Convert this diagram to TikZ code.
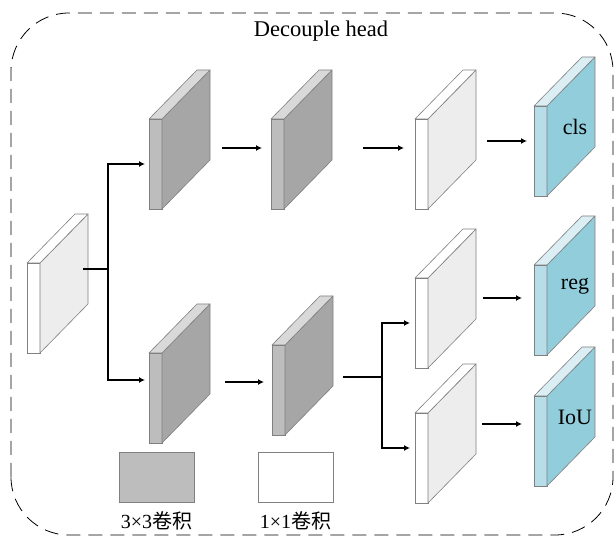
\documentclass[tikz,border=0pt]{standalone}
\usepackage{fontspec}
\setmainfont{Liberation Serif}
\newfontfamily\cjk{Noto Sans CJK SC}
\usetikzlibrary{arrows.meta,calc}

\definecolor{edgegray}{HTML}{808080}
\definecolor{gfront}{HTML}{BDBDBD}
\definecolor{gside}{HTML}{A6A6A6}
\definecolor{gtop}{HTML}{D9D9D9}
\definecolor{wside}{HTML}{EDEDED}
\definecolor{bfront}{HTML}{B7DDE8}
\definecolor{bside}{HTML}{92CDDC}
\definecolor{btop}{HTML}{DAEEF3}

% one feature map: name, position, front/side/top colour, label
\newcommand{\slab}[6]{%
  \node[slab, fill=#3] (#1) at (#2) {};
  \draw[face, fill=#4] (#1.north east) -- ++(48,49) -- ++(0,-90) -- (#1.south east) -- cycle;
  \draw[face, fill=#5] (#1.north west) -- ++(48,49) -- ++(13,0) -- (#1.north east) -- cycle;
  \node[lbl] (#1-t) at ($(#1.east)+(28,24)$) {#6};
}

\begin{document}
\begin{tikzpicture}[x=1pt,y=1pt,
  slab/.style={draw=edgegray, line width=0.6pt, minimum width=13pt, minimum height=90pt,
    inner sep=0pt, outer sep=0pt, anchor=north west},
  face/.style={draw=edgegray, line width=0.6pt, line join=round},
  wire/.style={line width=1.2pt},
  conn/.style={wire, -{Latex[length=6pt,width=6pt]}},
  lbl/.style={font=\fontsize{22}{24}\selectfont},
  keybox/.style={draw=edgegray, line width=0.6pt, minimum width=75pt, minimum height=50pt, inner sep=0pt}]
  \useasboundingbox (0,0) rectangle (616,538);
  \draw[dash pattern=on 14pt off 8pt, line width=0.8pt, rounded corners=58pt] (11,3) rectangle (613,525);
  \node[font=\fontsize{22.5}{24}\selectfont] (title) at (321,507) {Decouple head};

  % input
  \slab{in}{27,275}{white}{wside}{white}{}
  % cls branch
  \slab{g1}{149,419}{gfront}{gside}{gtop}{}
  \slab{g2}{271,419}{gfront}{gside}{gtop}{}
  \slab{w1}{415,419}{white}{wside}{white}{}
  \slab{cls}{534,432}{bfront}{bside}{btop}{cls}
  % reg / IoU branch
  \slab{g3}{149,185}{gfront}{gside}{gtop}{}
  \slab{g4}{272,193}{gfront}{gside}{gtop}{}
  \slab{w2}{415,260}{white}{wside}{white}{}
  \slab{w3}{415,125}{white}{wside}{white}{}
  \slab{reg}{534,273}{bfront}{bside}{btop}{reg}
  \slab{iou}{534,142}{bfront}{bside}{btop}{IoU}

  \coordinate (split1) at (108,269);
  \coordinate (split2) at (382,161);
  \draw[wire] ($(in.east)+(43,39)$) -- (split1);
  \draw[conn, shorten >=4pt] (split1) |- (g1.west);
  \draw[conn, shorten >=4pt] (split1) |- ($(g3.west)+(0,18)$);
  \draw[conn] ($(g1.east)+(60,16)$) -- ($(g2.west)+(-9,16)$);
  \draw[conn] ($(g2.east)+(79,16)$) -- ($(w1.west)+(-11,16)$);
  \draw[conn] ($(w1.east)+(59,23)$) -- ($(cls.west)+(-7,10)$);

  \draw[conn] ($(g3.east)+(63,16)$) -- ($(g4.west)+(-8,8)$);
  \draw[wire] ($(g4.east)+(58,13)$) -- (split2);
  \draw[conn, shorten >=5pt] (split2) |- (w2.west);
  \draw[conn, shorten >=5pt] (split2) |- ($(w3.west)+(0,10)$);
  \draw[conn] ($(w2.east)+(55,25)$) -- ($(reg.west)+(-12,12)$);
  \draw[conn] ($(w3.east)+(54,34)$) -- ($(iou.west)+(-12,17)$);

  % legend
  \node[keybox, fill=gfront] (k3) at (156.5,61) {};
  \node[keybox, fill=white] (k1) at (295.5,61) {};
  \node[font=\fontsize{20}{22}\selectfont] (k3t) at (156.5,17) {3×3{\cjk 卷积}};
  \node[font=\fontsize{20}{22}\selectfont] (k1t) at (295.5,17) {1×1{\cjk 卷积}};
\end{tikzpicture}
\end{document}
